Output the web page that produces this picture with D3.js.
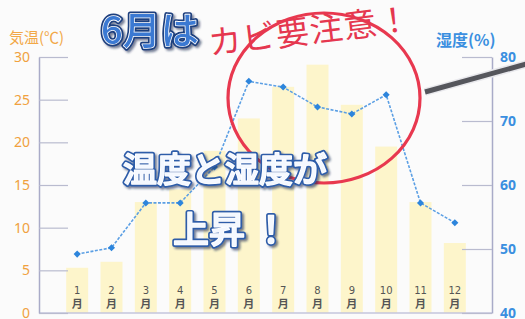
<!DOCTYPE html>
<html>
<head>
<meta charset="utf-8">
<script src="https://cdn.jsdelivr.net/npm/d3@7"></script>
<style>
  body { margin: 0; background: #fbfbfb; }
  svg { display: block; }
</style>
</head>
<body>
<div id="viz"></div>
<script>
// Monthly values.
const months = ["1", "2", "3", "4", "5", "6", "7", "8", "9", "10", "11", "12"];
const temperature = [5.3, 6.0, 13.0, 14.5, 19.0, 22.8, 26.5, 29.1, 24.4, 19.5, 13.0, 8.2];
const humidity = [49.2, 50.2, 57.2, 57.2, 62.8, 76.2, 75.3, 72.2, 71.1, 74.1, 57.2, 54.1];
const tempTicks = [0, 5, 10, 15, 20, 25, 30];
const humTicks = [40, 50, 60, 70, 80];

let canvasWidth = 525;
let canvasHeight = 319;
let plotTop = 57;
let plotBottom = 313;
let leftAxisX = 39;
let rightAxisX = 492;

const jp = "'Noto Sans CJK JP', 'Noto Sans', sans-serif";

let svg = d3.select("#viz").append("svg")
  .attr("width", canvasWidth)
  .attr("height", canvasHeight);

let defs = svg.append("defs");
let shadow = defs.append("filter").attr("id", "shadow")
  .attr("x", "-10%").attr("y", "-20%").attr("width", "130%").attr("height", "150%");
shadow.append("feDropShadow")
  .attr("dx", 2).attr("dy", 2).attr("stdDeviation", 1.2)
  .attr("flood-color", "#1b2c55").attr("flood-opacity", 0.6);

svg.append("rect")
  .attr("width", canvasWidth).attr("height", canvasHeight)
  .attr("fill", "#fbfbfb");

let x = d3.scaleBand()
  .domain(months)
  .range([60, 472])
  .paddingInner(0.36)
  .paddingOuter(0.18);
let yTemp = d3.scaleLinear().domain([0, 30]).range([plotBottom, plotTop]);
let yHum = d3.scaleLinear().domain([40, 80]).range([plotBottom, plotTop]);

// Temperature bars
svg.append("g").selectAll("rect")
  .data(temperature)
  .enter().append("rect")
  .attr("x", (d, i) => x(months[i]))
  .attr("y", (d) => yTemp(d))
  .attr("width", x.bandwidth())
  .attr("height", (d) => plotBottom - yTemp(d))
  .attr("fill", "#fdf5cb");

// Bottom base line
svg.append("line")
  .attr("x1", leftAxisX).attr("x2", rightAxisX)
  .attr("y1", plotBottom).attr("y2", plotBottom)
  .attr("stroke", "#c4c6dc").attr("stroke-width", 1.5);

// Left axis (temperature)
let leftAxis = svg.append("g")
  .attr("transform", "translate(" + leftAxisX + ",0)")
  .call(d3.axisLeft(yTemp).tickValues(tempTicks)
    .tickSizeInner(-29).tickSizeOuter(0).tickPadding(9));
leftAxis.select(".domain").attr("stroke", "#a9abc8").attr("stroke-width", 1.5);
leftAxis.selectAll(".tick line").attr("stroke", "#b9bbcf").attr("stroke-width", 1.2);
leftAxis.selectAll(".tick text")
  .attr("fill", "#f0a13e")
  .attr("font-family", "'Noto Sans', sans-serif")
  .attr("font-size", 14);

// Right axis (humidity)
let rightAxis = svg.append("g")
  .attr("transform", "translate(" + rightAxisX + ",0)")
  .call(d3.axisRight(yHum).tickValues(humTicks)
    .tickSizeInner(-30).tickSizeOuter(0).tickPadding(8));
rightAxis.select(".domain").attr("stroke", "#a9abc8").attr("stroke-width", 1.5);
rightAxis.selectAll(".tick line").attr("stroke", "#b9bbcf").attr("stroke-width", 1.2);
rightAxis.selectAll(".tick text")
  .attr("fill", "#3a8fe0")
  .attr("font-family", "'Noto Sans', sans-serif")
  .attr("font-weight", "bold")
  .attr("font-size", 14);

// Axis titles
svg.append("text")
  .attr("x", 9).attr("y", 43)
  .attr("font-family", jp).attr("font-size", 15)
  .attr("fill", "#f2a847")
  .text("気温(℃)");
svg.append("text")
  .attr("x", 436).attr("y", 46)
  .attr("font-family", jp).attr("font-size", 16).attr("font-weight", "bold")
  .attr("fill", "#3a8fe0")
  .text("湿度(%)");

// Month labels, number over 月
let monthLabels = svg.append("g").selectAll("g")
  .data(months)
  .enter().append("g")
  .attr("transform", (d) => "translate(" + (x(d) + x.bandwidth() / 2) + ",0)");
monthLabels.append("text")
  .attr("y", 294)
  .attr("text-anchor", "middle")
  .attr("font-family", "'DejaVu Sans', sans-serif").attr("font-size", 10)
  .attr("fill", "#555")
  .text((d) => d);
monthLabels.append("text")
  .attr("y", 308)
  .attr("text-anchor", "middle")
  .attr("font-family", jp).attr("font-size", 11).attr("font-weight", "bold")
  .attr("fill", "#555")
  .text("月");

// Humidity line
let humLine = d3.line()
  .x((d, i) => x(months[i]) + x.bandwidth() / 2)
  .y((d) => yHum(d));
svg.append("path")
  .datum(humidity)
  .attr("d", humLine)
  .attr("fill", "none")
  .attr("stroke", "#5b9fe4")
  .attr("stroke-width", 1.6)
  .attr("stroke-dasharray", "3,1.5");
svg.append("g").selectAll("rect")
  .data(humidity)
  .enter().append("rect")
  .attr("x", (d, i) => x(months[i]) + x.bandwidth() / 2 - 2.5)
  .attr("y", (d) => yHum(d) - 2.5)
  .attr("width", 5).attr("height", 5)
  .attr("transform", (d, i) => "rotate(45," + (x(months[i]) + x.bandwidth() / 2) + "," + yHum(d) + ")")
  .attr("fill", "#2d85dc");

// Red circle highlighting June-October
svg.append("ellipse")
  .attr("cx", 324).attr("cy", 98)
  .attr("rx", 96).attr("ry", 85)
  .attr("fill", "none")
  .attr("stroke", "#e8384f")
  .attr("stroke-width", 3.2);

// Pointer bar
svg.append("line")
  .attr("x1", 425).attr("y1", 92).attr("x2", 530).attr("y2", 63)
  .attr("stroke", "#e8e8ec").attr("stroke-width", 8);
svg.append("line")
  .attr("x1", 425).attr("y1", 92).attr("x2", 530).attr("y2", 63)
  .attr("stroke", "#55565c").attr("stroke-width", 5);

// "カビ要注意！"
svg.append("text")
  .attr("transform", "translate(210,55) rotate(-7)")
  .attr("font-family", jp).attr("font-size", 33).attr("font-weight", 400)
  .attr("fill", "#e5374f")
  .attr("letter-spacing", 1)
  .text("カビ要注意！");

// Outlined headline text
function outlined(str, tx, ty, size, fill, stroke) {
  let g = svg.append("g").attr("filter", "url(#shadow)");
  g.append("text")
    .attr("x", tx).attr("y", ty)
    .attr("font-family", jp).attr("font-size", size).attr("font-weight", 500)
    .attr("fill", fill)
    .attr("stroke", stroke).attr("stroke-width", 5).attr("stroke-linejoin", "round")
    .attr("paint-order", "stroke")
    .text(str);
  g.append("text")
    .attr("x", tx).attr("y", ty)
    .attr("font-family", jp).attr("font-size", size).attr("font-weight", 500)
    .attr("fill", fill)
    .attr("stroke", "#ffffff").attr("stroke-width", 1.6).attr("stroke-linejoin", "round")
    .attr("paint-order", "stroke")
    .text(str);
}

outlined("6月は", 101, 44, 38, "#3b79d2", "#1f3f7e");
outlined("温度と湿度が", 123, 182, 34, "#f4f8ff", "#2f5da9");
outlined("上昇 ！", 173, 243, 36, "#f4f8ff", "#2f5da9");
</script>
</body>
</html>
